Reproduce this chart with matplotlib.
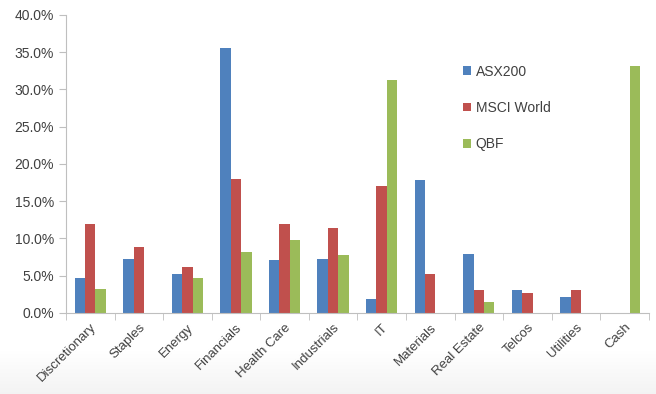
import matplotlib.pyplot as plt
import matplotlib.ticker as mticker
import numpy as np

# sector weights (%)
sectors = ['Discretionary', 'Staples', 'Energy', 'Financials', 'Health Care', 'Industrials',
           'IT', 'Materials', 'Real Estate', 'Telcos', 'Utilities', 'Cash']
asx200 = [4.7, 7.3, 5.2, 35.6, 7.1, 7.2, 1.9, 17.8, 7.9, 3.1, 2.1, 0.0]
msci_world = [12.0, 8.8, 6.2, 18.0, 11.9, 11.4, 17.1, 5.2, 3.1, 2.7, 3.1, 0.0]
qbf = [3.2, 0.0, 4.7, 8.2, 9.8, 7.8, 31.3, 0.0, 1.5, 0.0, 0.0, 33.2]

plt.rcParams['font.family'] = ['Liberation Sans', 'DejaVu Sans']

fig = plt.figure(figsize=(6.56, 3.94), dpi=100)

# faint grey fade at the bottom of the picture, behind everything
bg = fig.add_axes([0, 0, 1, 0.11], zorder=-5)
grad = np.linspace(0.955, 1.0, 50).reshape(-1, 1)
bg.imshow(np.dstack([grad, grad, grad]), aspect='auto', extent=(0, 1, 0, 1), origin='lower')
bg.axis('off')

ax = fig.add_axes([0.1006, 0.2056, 0.8884, 0.7564])
ax.patch.set_alpha(0)

x = np.arange(len(sectors))
w = 0.215
ax.bar(x - w, asx200, w, color='#4f81bd', label='ASX200')
ax.bar(x, msci_world, w, color='#c0504d', label='MSCI World')
ax.bar(x + w, qbf, w, color='#9bbb59', label='QBF')

ax.set_xlim(-0.5, len(sectors) - 0.5)
ax.set_ylim(0, 40)
ax.yaxis.set_major_locator(mticker.MultipleLocator(5))
ax.yaxis.set_major_formatter(mticker.FuncFormatter(lambda v, p: '%.1f%%' % v))

ax.set_xticks(x)
ax.set_xticklabels(sectors, rotation=45, ha='right', rotation_mode='anchor')
ax.set_xticks(np.arange(-0.5, len(sectors) + 0.5, 1), minor=True)
ax.tick_params(axis='x', which='major', length=0, pad=6, labelsize=9.5, labelcolor='#404040')
ax.tick_params(axis='x', which='minor', length=5, color='#bfbfbf', direction='out')
ax.tick_params(axis='y', length=5, color='#bfbfbf', labelsize=10, labelcolor='#404040')

for s in ['top', 'right']:
    ax.spines[s].set_visible(False)
for s in ['left', 'bottom']:
    ax.spines[s].set_color('#bfbfbf')

leg = ax.legend(loc='upper left', bbox_to_anchor=(0.66, 0.875), frameon=False,
                fontsize=10, handlelength=0.6, handleheight=0.6, handletextpad=0.3,
                labelspacing=1.6)
for t in leg.get_texts():
    t.set_color('#404040')

fig.savefig('out.png', dpi=100)
